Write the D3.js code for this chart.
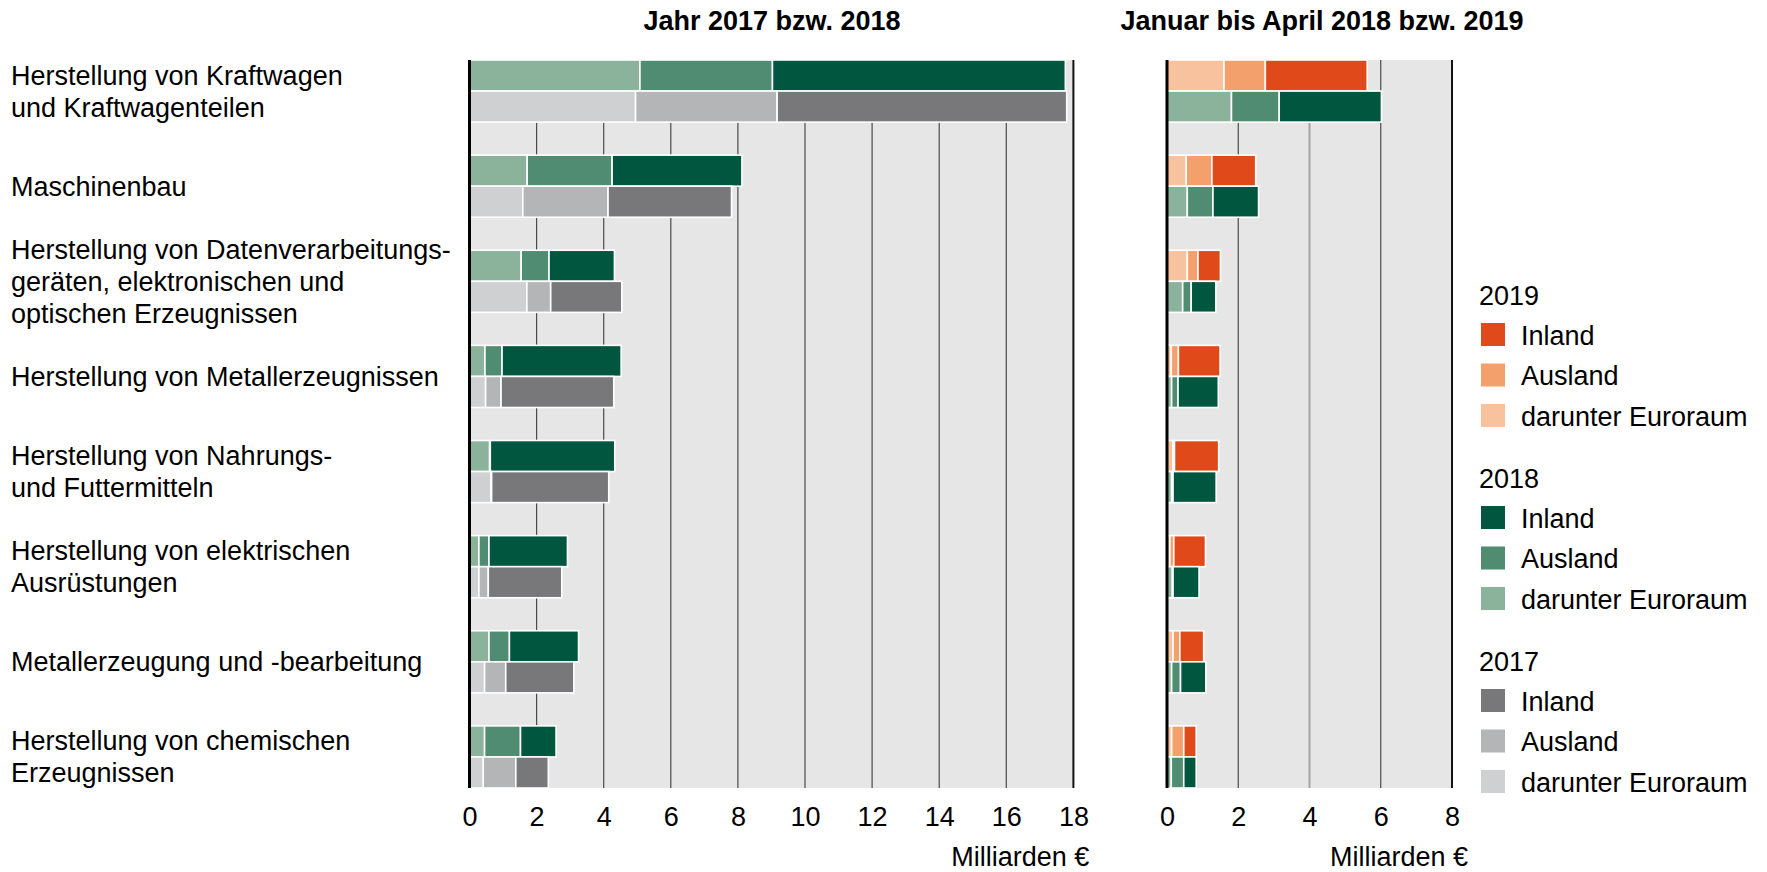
<!DOCTYPE html>
<html>
<head>
<meta charset="utf-8">
<script src="https://cdn.jsdelivr.net/npm/d3@7"></script>
<style>
  body { margin: 0; background: #fff; }
  svg text { font-family: "Liberation Sans", Arial, sans-serif; fill: #000; }
</style>
</head>
<body>
<script>
// branches, each label split into its printed lines
var categories = [
  ["Herstellung von Kraftwagen", "und Kraftwagenteilen"],
  ["Maschinenbau"],
  ["Herstellung von Datenverarbeitungs-", "geräten, elektronischen und", "optischen Erzeugnissen"],
  ["Herstellung von Metallerzeugnissen"],
  ["Herstellung von Nahrungs-", "und Futtermitteln"],
  ["Herstellung von elektrischen", "Ausrüstungen"],
  ["Metallerzeugung und -bearbeitung"],
  ["Herstellung von chemischen", "Erzeugnissen"]
];

// Jahr 2017 / 2018 (Milliarden Euro): Euroraum is part of Ausland
var euro2017 = [4.95, 1.59, 1.71, 0.48, 0.64, 0.28, 0.45, 0.41];
var ausl2017 = [9.17, 4.13, 2.42, 0.94, 0.66, 0.56, 1.08, 1.38];
var inl2017  = [8.63, 3.68, 2.12, 3.36, 3.49, 2.19, 2.03, 0.97];

var euro2018 = [5.08, 1.72, 1.54, 0.46, 0.60, 0.28, 0.58, 0.45];
var ausl2018 = [9.03, 4.25, 2.37, 0.97, 0.62, 0.58, 1.19, 1.52];
var inl2018  = [8.73, 3.87, 1.95, 3.55, 3.71, 2.34, 2.06, 1.06];

// Januar bis April 2018 / 2019
var euroJA2018 = [1.81, 0.57, 0.44, 0.13, 0.13, 0.15, 0.13, 0.12];
var auslJA2018 = [3.15, 1.29, 0.68, 0.31, 0.17, 0.17, 0.38, 0.47];
var inlJA2018  = [2.87, 1.28, 0.69, 1.13, 1.21, 0.73, 0.71, 0.35];

var euroJA2019 = [1.60, 0.54, 0.57, 0.12, 0.17, 0.08, 0.17, 0.13];
var auslJA2019 = [2.76, 1.26, 0.87, 0.32, 0.21, 0.19, 0.36, 0.47];
var inlJA2019  = [2.86, 1.23, 0.63, 1.17, 1.24, 0.89, 0.67, 0.35];

var ticksLeft = [0, 2, 4, 6, 8, 10, 12, 14, 16, 18];
var ticksRight = [0, 2, 4, 6, 8];
var legendYears = ["2019", "2018", "2017"];
var legendItems = ["Inland", "Ausland", "darunter Euroraum"];

var colors = {
  "2019": { inland: "#e0491a", ausland: "#f4a06c", euro: "#f9c29f" },
  "2018": { inland: "#01563f", ausland: "#4f8c72", euro: "#8bb29b" },
  "2017": { inland: "#78787a", ausland: "#b4b5b7", euro: "#cfd0d2" }
};

var width = 1767,
    height = 872,
    plotTop = 60,
    plotBottom = 788,
    fontSize = 27;

var svg = d3.select("body").append("svg")
    .attr("width", width)
    .attr("height", height);

var y = d3.scaleBand()
    .domain(d3.range(categories.length))
    .range([plotTop, plotBottom])
    .paddingInner(0.347)
    .paddingOuter(0);

function series(year, euro, ausl, inl) {
  return { year: year, euro: euro, ausl: ausl, inl: inl };
}

function panel(x0, x1, max, ticks, title, titleX, rows, lightTick) {
  var x = d3.scaleLinear().domain([0, max]).range([x0, x1]);
  var g = svg.append("g");

  g.append("rect")
      .attr("x", x(0))
      .attr("y", plotTop)
      .attr("width", x(max) - x(0))
      .attr("height", plotBottom - plotTop)
      .attr("fill", "#e6e6e6");

  g.selectAll(".grid")
    .data(ticks.filter(function(t) { return t > 0 && t < max; }))
    .enter().append("line")
      .attr("x1", function(d) { return x(d); })
      .attr("x2", function(d) { return x(d); })
      .attr("y1", plotTop)
      .attr("y2", plotBottom)
      .attr("stroke", function(d) { return d === lightTick ? "#a3a3a3" : "#4a4a4a"; })
      .attr("stroke-width", function(d) { return d === lightTick ? 2 : 1.2; });

  var half = y.bandwidth() / 2;

  rows.forEach(function(s, r) {
    var c = colors[s.year];
    categories.forEach(function(cat, i) {
      var segs = [
        [0, s.euro[i], c.euro],
        [s.euro[i], s.ausl[i], c.ausland],
        [s.ausl[i], s.ausl[i] + s.inl[i], c.inland]
      ];
      g.selectAll(null)
        .data(segs)
        .enter().append("rect")
          .attr("x", function(d) { return x(d[0]); })
          .attr("y", y(i) + r * half)
          .attr("width", function(d) { return Math.max(0, x(d[1]) - x(d[0])); })
          .attr("height", half)
          .attr("fill", function(d) { return d[2]; })
          .attr("stroke", "#fff")
          .attr("stroke-width", 1.6);
    });
  });

  // zero line and right frame
  g.append("line")
      .attr("x1", x(0)).attr("x2", x(0))
      .attr("y1", plotTop).attr("y2", plotBottom)
      .attr("stroke", "#000").attr("stroke-width", 3);
  g.append("line")
      .attr("x1", x(max)).attr("x2", x(max))
      .attr("y1", plotTop).attr("y2", plotBottom)
      .attr("stroke", "#111").attr("stroke-width", 2);

  var axis = g.append("g")
      .attr("transform", "translate(0," + plotBottom + ")")
      .call(d3.axisBottom(x).tickValues(ticks).tickSize(0).tickPadding(19));
  axis.select(".domain").remove();
  axis.selectAll("text")
      .style("font-size", fontSize + "px")
      .style("font-family", "'Liberation Sans', Arial, sans-serif")
      .attr("fill", "#000");

  g.append("text")
      .attr("x", x(max) + 16)
      .attr("y", 866)
      .attr("text-anchor", "end")
      .style("font-size", fontSize + "px")
      .text("Milliarden €");

  g.append("text")
      .attr("x", titleX)
      .attr("y", 30)
      .attr("text-anchor", "middle")
      .style("font-size", "27px")
      .style("font-weight", "bold")
      .text(title);
}

panel(469.5, 1073.4, 18, ticksLeft, "Jahr 2017 bzw. 2018", 772,
  [series("2018", euro2018, ausl2018, inl2018), series("2017", euro2017, ausl2017, inl2017)], null);

panel(1167, 1452, 8, ticksRight, "Januar bis April 2018 bzw. 2019", 1322,
  [series("2019", euroJA2019, auslJA2019, inlJA2019), series("2018", euroJA2018, auslJA2018, inlJA2018)], 4);

// category labels, centred on their group
var lineH = 32;
categories.forEach(function(lines, i) {
  var cy = y(i) + y.bandwidth() / 2;
  var t = svg.append("text")
      .attr("x", 11)
      .style("font-size", fontSize + "px");
  lines.forEach(function(l, k) {
    t.append("tspan")
        .attr("x", 11)
        .attr("y", cy + (k - (lines.length - 1) / 2) * lineH + 9.5)
        .text(l);
  });
});

// legend
var legend = svg.append("g").attr("transform", "translate(1479,0)");
legendYears.forEach(function(yr, gi) {
  var yc = 295 + gi * 183;
  legend.append("text")
      .attr("x", 0)
      .attr("y", yc + 9.5)
      .style("font-size", fontSize + "px")
      .text(yr);
  var keys = ["inland", "ausland", "euro"];
  legendItems.forEach(function(name, k) {
    var ic = yc + 40 + k * 40.5;
    legend.append("rect")
        .attr("x", 2)
        .attr("y", ic - 12)
        .attr("width", 24)
        .attr("height", 23)
        .attr("fill", colors[yr][keys[k]]);
    legend.append("text")
        .attr("x", 42)
        .attr("y", ic + 9.5)
        .style("font-size", fontSize + "px")
        .text(name);
  });
});
</script>
</body>
</html>
